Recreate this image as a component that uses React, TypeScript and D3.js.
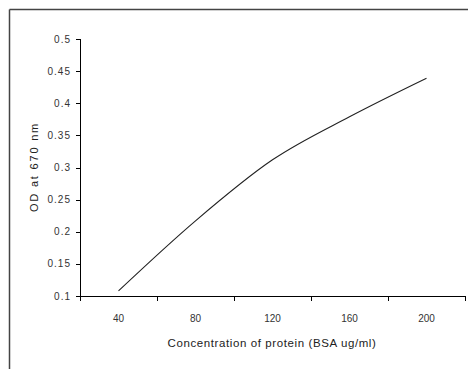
import React from "react";
import * as d3 from "d3";

const categories: number[] = [40, 80, 120, 160, 200];
const odValues: number[] = [0.108, 0.217, 0.312, 0.379, 0.439];
const yTicks: number[] = [0.1, 0.15, 0.2, 0.25, 0.3, 0.35, 0.4, 0.45, 0.5];

const W = 468;
const H = 369;
const left = 80;
const right = 465;
const top = 39;
const bottom = 296;

export default function App() {
  const x = d3
    .scaleBand<number>()
    .domain(categories)
    .range([left, right])
    .padding(0);
  const y = d3.scaleLinear().domain([0.1, 0.5]).range([bottom, top]);
  const line = d3
    .line<number>()
    .x((_, i) => (x(categories[i]) as number) + x.bandwidth() / 2)
    .y((d) => y(d))
    .curve(d3.curveCardinal.tension(0));
  const boundaries = [...categories.map((c) => x(c) as number), right];
  const font = "Arial, 'Liberation Sans', sans-serif";
  return (
    <svg
      width={W}
      height={H}
      style={{ position: "absolute", left: 0, top: 0, background: "#fff" }}
    >
      <line x1={9.5} y1={9.5} x2={W} y2={9.5} stroke="#444" strokeWidth={1.5} />
      <line x1={9.5} y1={9.5} x2={9.5} y2={H} stroke="#444" strokeWidth={1.5} />
      {/* y axis */}
      <line x1={left + 0.5} y1={top} x2={left + 0.5} y2={bottom} stroke="#000" />
      {yTicks.map((t) => (
        <g key={t}>
          <line
            x1={left - 4}
            x2={left}
            y1={Math.round(y(t)) + 0.5}
            y2={Math.round(y(t)) + 0.5}
            stroke="#000"
          />
          <text
            x={left - 9}
            y={y(t)}
            dy="0.35em"
            textAnchor="end"
            fontSize={10}
            letterSpacing={1}
            fontFamily={font}
            fill="#333"
          >
            {String(t)}
          </text>
        </g>
      ))}
      {/* x axis */}
      <line x1={left} y1={bottom + 0.5} x2={right + 0.5} y2={bottom + 0.5} stroke="#000" />
      {boundaries.map((b, i) => (
        <line
          key={i}
          x1={Math.round(b) + 0.5}
          x2={Math.round(b) + 0.5}
          y1={bottom}
          y2={bottom + 5}
          stroke="#000"
        />
      ))}
      {categories.map((c) => (
        <text
          key={c}
          x={(x(c) as number) + x.bandwidth() / 2}
          y={318}
          dy="0.35em"
          textAnchor="middle"
          fontSize={10}
          fontFamily={font}
          fill="#333"
        >
          {c}
        </text>
      ))}
      <path d={line(odValues) || ""} fill="none" stroke="#222" strokeWidth={1.1} />
      <text
        x={272}
        y={343}
        dy="0.35em"
        textAnchor="middle"
        fontSize={11.5}
        letterSpacing={0.6}
        fontFamily={font}
        fill="#222"
      >
        Concentration of protein (BSA ug/ml)
      </text>
      <text
        transform="translate(34,167) rotate(-90)"
        textAnchor="middle"
        dy="0.35em"
        fontSize={11}
        letterSpacing={1.8}
        fontFamily={font}
        fill="#222"
      >
        OD at 670 nm
      </text>
    </svg>
  );
}
